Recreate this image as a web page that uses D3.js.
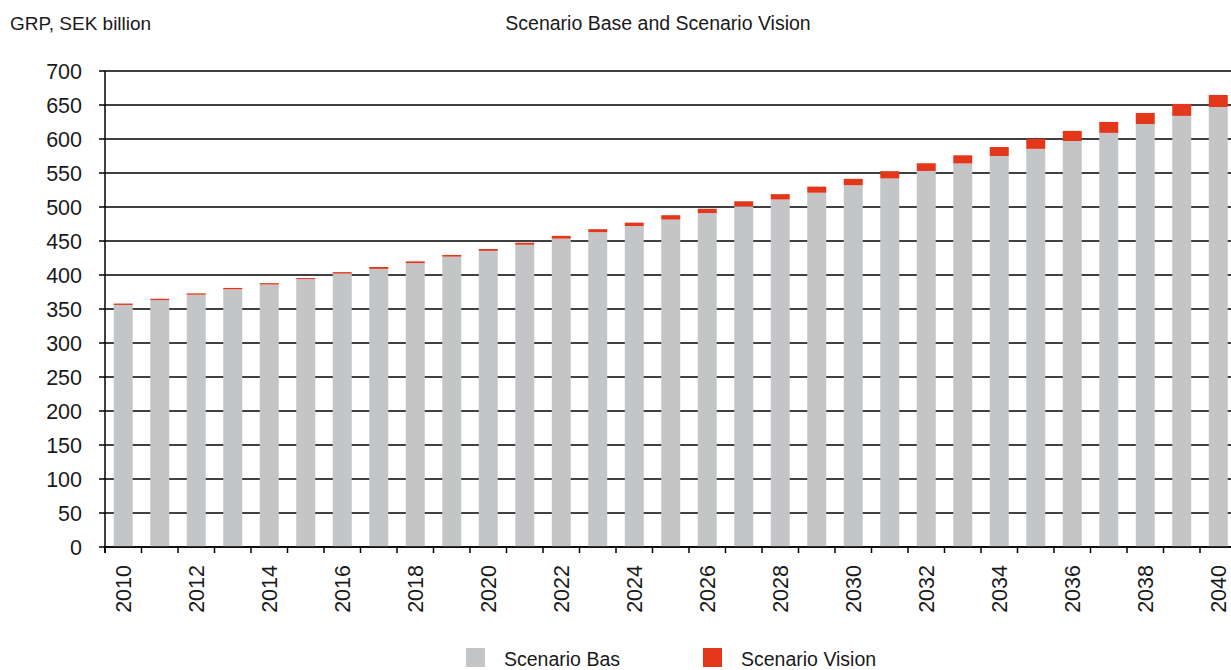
<!DOCTYPE html>
<html>
<head>
<meta charset="utf-8">
<script src="https://cdn.jsdelivr.net/npm/d3@7"></script>
<style>
  html, body { margin: 0; padding: 0; background: #fff; }
  svg { display: block; }
  text { font-family: "Liberation Sans", Arial, sans-serif; fill: #1a1a1a; }
</style>
</head>
<body>
<svg id="chart" width="1231" height="670"></svg>
<script>
const years = d3.range(2010, 2041);
const baseValues = [356, 363, 371, 379, 386, 394, 402, 409, 417.5, 427,
                    435.5, 444.5, 453.5, 463, 472, 481.5, 491, 501, 511, 521,
                    532, 542, 553, 564, 575, 585.5, 597, 609, 622, 634, 647];
const visionValues = [2, 2, 2, 2, 2, 1.5, 2.2, 2.8, 2.5, 2.5,
                      2.7, 3, 4, 4.4, 5, 6.4, 6.4, 7.4, 7.9, 9,
                      9.4, 10.7, 11.3, 12, 13.2, 14.6, 14.9, 16.1, 16.3, 17.6, 17.8];
const yTicks = d3.range(0, 701, 50);
const xTickLabels = years.filter(y => y % 2 === 0);
const seriesNames = ["Scenario Bas", "Scenario Vision"];
const colors = ["#c4c5c7", "#e4361a"];
const chartTitle = "Scenario Base and Scenario Vision";
const yTitle = "GRP, SEK billion";

(function () {
const svg = d3.select("#chart");
const mLeft = 105, mRight = 1236.5, mTop = 71, mBottom = 547;

const x = d3.scaleBand().domain(years).range([mLeft, mRight])
  .paddingInner(0.48).paddingOuter(0.24);
const y = d3.scaleLinear().domain([0, 700]).range([mBottom, mTop]);
const step = x.step();

const data = years.map((yr, i) => ({ year: yr, base: baseValues[i], vision: visionValues[i] }));
const stack = d3.stack().keys(["base", "vision"])(data);

// gridlines
svg.append("g").selectAll("line").data(yTicks).join("line")
  .attr("x1", mLeft - 6).attr("x2", 1231)
  .attr("y1", d => y(d)).attr("y2", d => y(d))
  .attr("stroke", "#000").attr("stroke-width", 1.5);

// bars
svg.append("g").selectAll("g").data(stack).join("g")
  .attr("fill", (d, i) => colors[i])
  .selectAll("rect").data(d => d).join("rect")
  .attr("x", d => x(d.data.year))
  .attr("width", x.bandwidth())
  .attr("y", d => y(d[1]))
  .attr("height", d => y(d[0]) - y(d[1]));

// y axis line
svg.append("line").attr("x1", mLeft).attr("x2", mLeft)
  .attr("y1", mTop).attr("y2", mBottom + 6)
  .attr("stroke", "#000").attr("stroke-width", 1.5);

// x axis line
svg.append("line").attr("x1", mLeft).attr("x2", 1231)
  .attr("y1", mBottom).attr("y2", mBottom)
  .attr("stroke", "#000").attr("stroke-width", 1.5);

// x ticks at band boundaries
svg.append("g").selectAll("line").data(years).join("line")
  .attr("x1", d => x(d) - x.paddingOuter() * step)
  .attr("x2", d => x(d) - x.paddingOuter() * step)
  .attr("y1", mBottom).attr("y2", mBottom + 6)
  .attr("stroke", "#000").attr("stroke-width", 1.5);

// y labels
svg.append("g").selectAll("text").data(yTicks).join("text")
  .attr("x", 82).attr("y", d => y(d)).attr("dy", "0.36em")
  .attr("text-anchor", "end").style("font-size", "21.5px")
  .text(d => d);

// x labels
svg.append("g").selectAll("text").data(xTickLabels).join("text")
  .attr("transform", d => `translate(${x(d) + x.bandwidth() / 2},565) rotate(-90)`)
  .attr("dy", "0.36em").attr("text-anchor", "end").style("font-size", "21.5px")
  .text(d => d);

// titles
svg.append("text").attr("x", 10).attr("y", 30).style("font-size", "19px").text(yTitle);
svg.append("text").attr("x", 658).attr("y", 30).attr("text-anchor", "middle")
  .style("font-size", "19.5px").text(chartTitle);

// legend
const legendX = [466, 703];
const lg = svg.append("g").selectAll("g").data(seriesNames).join("g")
  .attr("transform", (d, i) => `translate(${legendX[i]},648)`);
lg.append("rect").attr("width", 19).attr("height", 19).attr("fill", (d, i) => colors[i]);
lg.append("text").attr("x", 38).attr("y", 18).style("font-size", "19.5px").text(d => d);
})();
</script>
</body>
</html>
